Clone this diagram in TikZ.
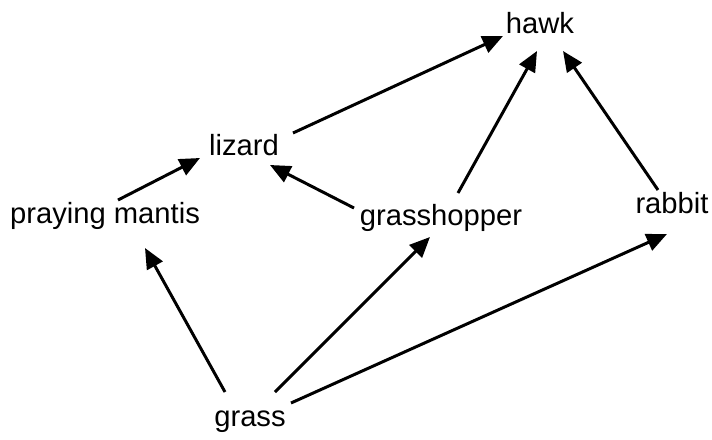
\documentclass[tikz,border=0pt]{standalone}
\usepackage{fontspec}
\setmainfont{Liberation Sans}
\usetikzlibrary{arrows.meta}
\tikzset{
	species/.style={inner sep=0pt, anchor=base, font=\fontsize{8.3}{10}\selectfont},
	eats/.style={line width=0.85pt, -{Triangle[length=5.8pt,width=5pt]}}
}

\begin{document}
\begin{tikzpicture}[x=0.01cm, y=-0.01cm]
			%%%%% START %%%%%
			
			\useasboundingbox (0, 0) rectangle (712, 439);
			
			\node[species] (hawk) at (540, 33) {hawk};
			\node[species] (lizard) at (244, 155) {lizard};
			\node[species] (mantis) at (105, 223) {praying mantis};
			\node[species] (hopper) at (441, 225) {grasshopper};
			\node[species] (rabbit) at (672, 213) {rabbit};
			\node[species] (grass) at (250, 426) {grass};
			
			\draw[eats] ([shift={(49,-22)}]lizard.base) -- ([shift={(-37,3)}]hawk.base);
			\draw[eats] ([shift={(13,-23)}]mantis.base) -- ([shift={(-44,3)}]lizard.base);
			\draw[eats] ([shift={(-87,-17)}]hopper.base) -- ([shift={(26,10)}]lizard.base);
			\draw[eats] ([shift={(17,-32)}]hopper.base) -- ([shift={(-3,18)}]hawk.base);
			\draw[eats] ([shift={(-14,-23)}]rabbit.base) -- ([shift={(23,18)}]hawk.base);
			
			\draw[eats] ([shift={(-25,-34)}]grass.base) -- ([shift={(40,25)}]mantis.base);
			\draw[eats] ([shift={(25,-34)}]grass.base) -- ([shift={(-11,12)}]hopper.base);
			\draw[eats] ([shift={(41,-23)}]grass.base) -- ([shift={(-5,21)}]rabbit.base);
			
			%%%%% END %%%%%
		\end{tikzpicture}
\end{document}
